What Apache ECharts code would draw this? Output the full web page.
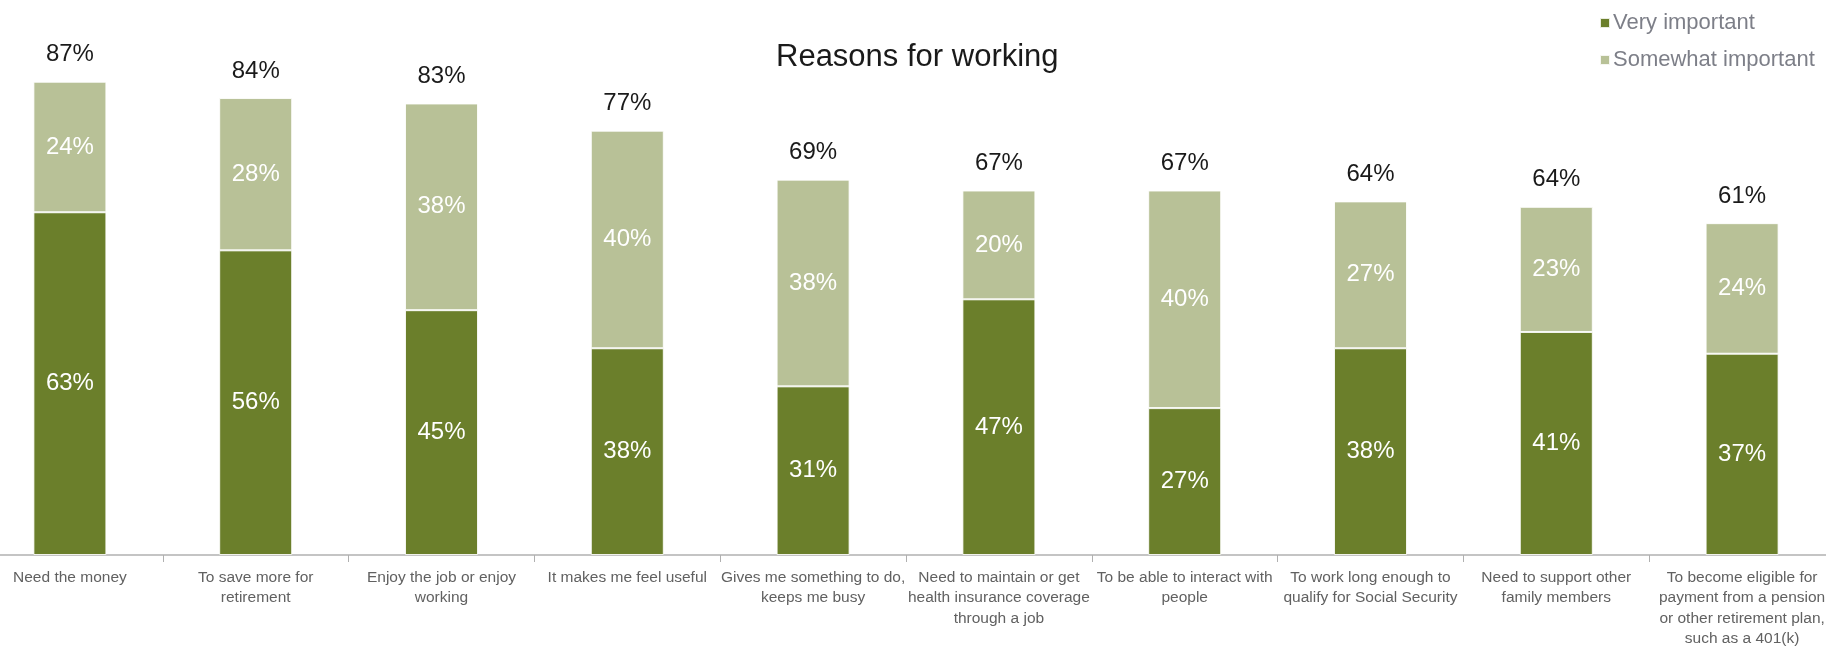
<!DOCTYPE html>
<html>
<head>
<meta charset="utf-8">
<script src="https://cdn.jsdelivr.net/npm/echarts@6/dist/echarts.min.js"></script>
<style>
html,body{margin:0;padding:0;background:#fff;overflow:hidden;width:1826px;height:647px;position:relative;}
#chart{position:absolute;left:-23px;top:0;width:1858px;height:647px;}
</style>
</head>
<body>
<div id="chart"></div>
<script>
const categories = [
  "Need the money",
  "To save more for\nretirement",
  "Enjoy the job or enjoy\nworking",
  "It makes me feel useful",
  "Gives me something to do,\nkeeps me busy",
  "Need to maintain or get\nhealth insurance coverage\nthrough a job",
  "To be able to interact with\npeople",
  "To work long enough to\nqualify for Social Security",
  "Need to support other\nfamily members",
  "To become eligible for\npayment from a pension\nor other retirement plan,\nsuch as a 401(k)"
];
const veryImportant = [63, 56, 45, 38, 31, 47, 27, 38, 41, 37];
const somewhatImportant = [24, 28, 38, 40, 38, 20, 40, 27, 23, 24];
const totals = [87, 84, 83, 77, 69, 67, 67, 64, 64, 61];

const FONT = "'Liberation Sans', Arial, sans-serif";
const chart = echarts.init(document.getElementById('chart'), null, {renderer: 'canvas'});
chart.setOption({
  animation: false,
  backgroundColor: '#ffffff',
  title: {
    text: 'Reasons for working',
    left: 799,
    top: 42,
    padding: 0,
    textStyle: {fontFamily: FONT, fontSize: 31, fontWeight: 'normal', color: '#1a1a1a'}
  },
  legend: {
    data: ['Very important', 'Somewhat important'],
    orient: 'vertical',
    left: 1617,
    top: 7,
    itemWidth: 10,
    itemHeight: 10,
    itemGap: 15,
    icon: 'rect',
    textStyle: {fontFamily: FONT, fontSize: 22, color: '#7d7f88', lineHeight: 22, padding: [0, 0, 0, -2]}
  },
  grid: {left: 0, right: 0, top: 11, bottom: 92, containLabel: false, outerBoundsMode: 'none'},
  xAxis: {
    type: 'category',
    data: categories,
    axisLine: {show: true, lineStyle: {color: '#b0b0b0', width: 1.5}},
    axisTick: {show: true, length: 7, lineStyle: {color: '#b0b0b0'}},
    axisLabel: {
      interval: 0,
      margin: 12,
      fontFamily: FONT,
      fontSize: 15.5,
      lineHeight: 20.6,
      color: '#616161',
      align: 'center'
    }
  },
  yAxis: {type: 'value', min: 0, max: 100, show: false, splitLine: {show: false}},
  series: [
    {
      name: 'Very important',
      type: 'bar',
      stack: 'a',
      barWidth: 73,
      data: veryImportant,
      itemStyle: {color: '#6b7f2b', borderColor: 'rgba(255,255,255,0.85)', borderWidth: 1},
      label: {show: true, position: 'inside', color: '#ffffff', fontFamily: FONT, fontSize: 24,
        formatter: p => p.value + '%'}
    },
    {
      name: 'Somewhat important',
      type: 'bar',
      stack: 'a',
      barWidth: 73,
      data: somewhatImportant,
      itemStyle: {color: '#b8c197', borderColor: 'rgba(255,255,255,0.85)', borderWidth: 1},
      label: {show: true, position: 'inside', color: '#ffffff', fontFamily: FONT, fontSize: 24,
        formatter: p => p.value + '%'}
    },
    {
      name: 'Total',
      type: 'bar',
      stack: 'a',
      barWidth: 73,
      data: totals.map(() => 0),
      itemStyle: {color: 'rgba(0,0,0,0)'},
      label: {show: true, position: 'top', distance: 15, color: '#1a1a1a', fontFamily: FONT, fontSize: 24,
        formatter: p => totals[p.dataIndex] + '%'}
    }
  ]
});
</script>
</body>
</html>
